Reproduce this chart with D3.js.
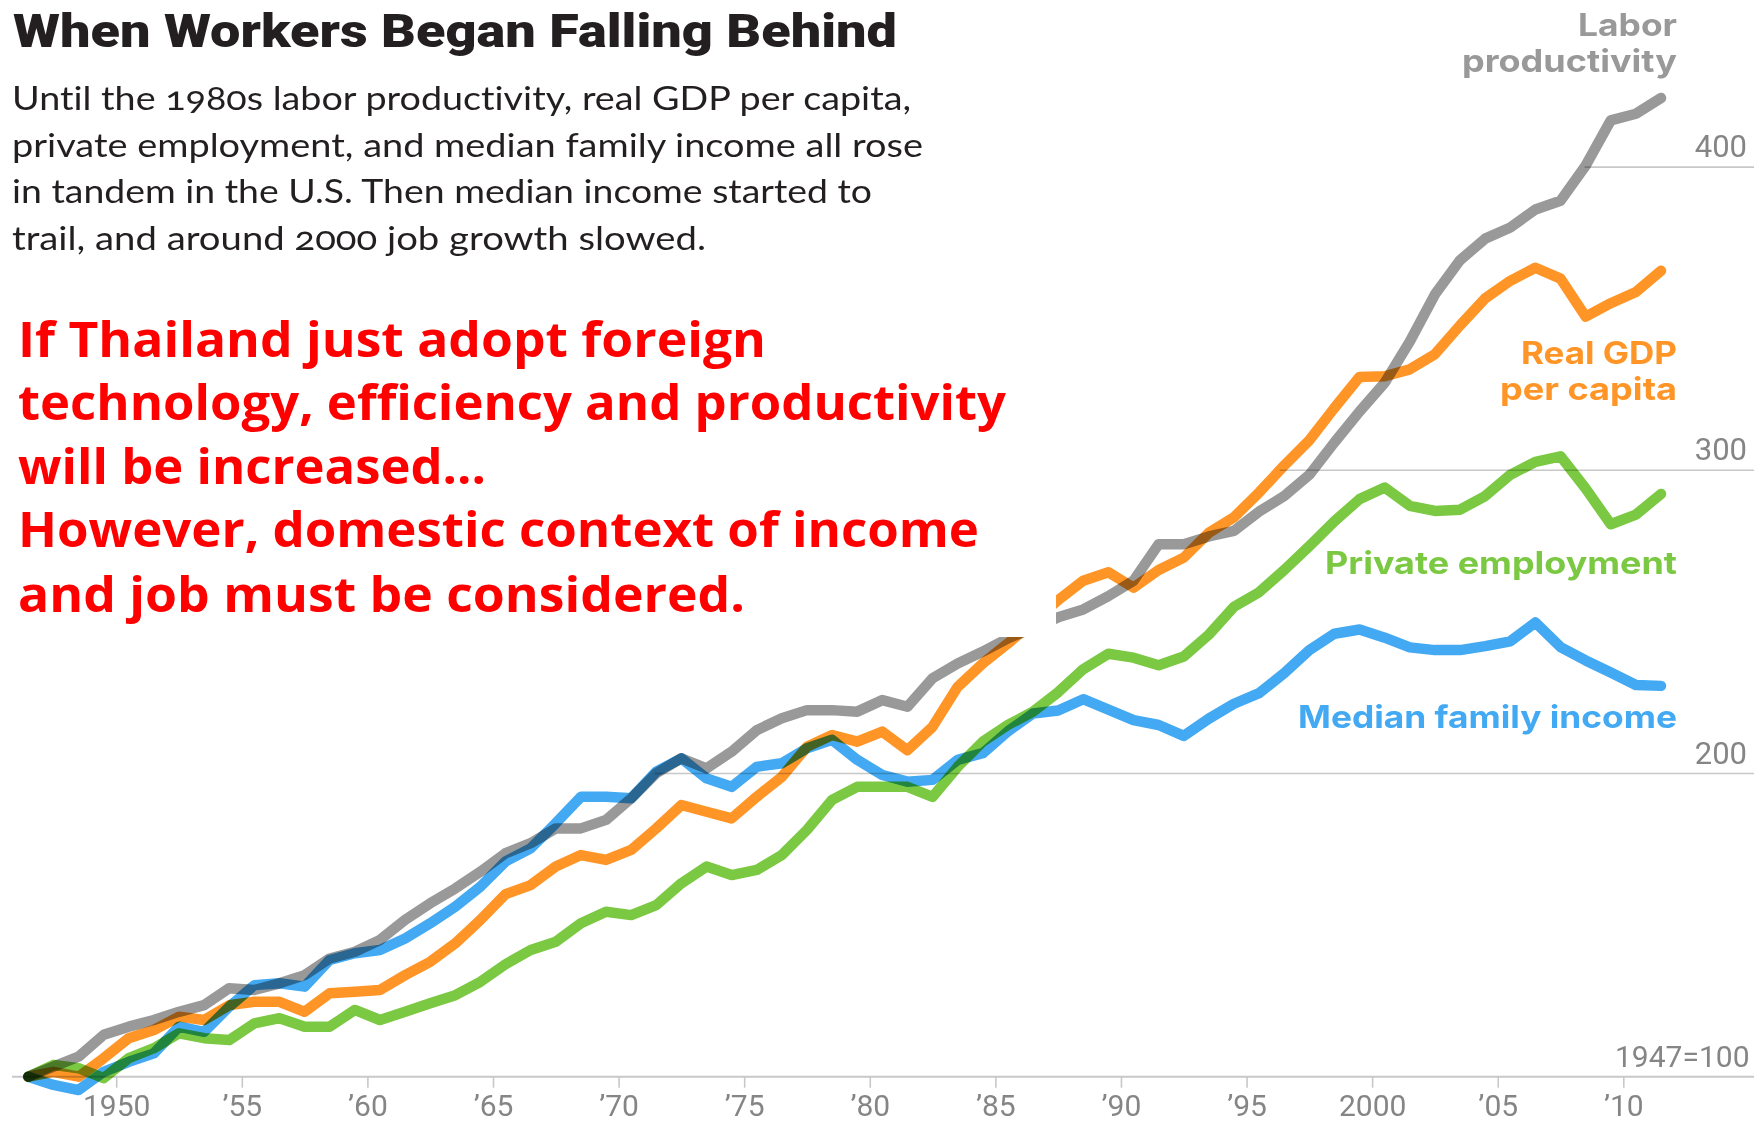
<!DOCTYPE html>
<html><head><meta charset="utf-8">
<script src="https://cdn.jsdelivr.net/npm/d3@7"></script>
<style>body{margin:0;background:#fff}svg{display:block}</style>
</head><body>
<svg id="c" width="1754" height="1122"></svg>
<script>
// ---- data ----
const startYear = 1947, endYear = 2012;
const years = d3.range(startYear, endYear + 1);

const laborProductivity = [100,103.3,106.6,113.8,116.5,118.7,121.4,123.6,129.2,128.6,130.8,133.5,139.0,141.2,145.1,151.7,157.2,162.1,167.6,173.7,
  177.0,181.9,181.9,184.7,191.8,200.1,205.0,201.7,207.2,214.3,218.2,220.9,220.9,220.4,224.2,222.0,231.4,236.3,240.2,244.6,
  248.0,251.5,254.1,258.5,263.6,275.6,275.6,278.2,280.0,286.4,291.5,298.5,309.2,319.4,328.9,342.5,358.0,369.3,376.4,380.1,
  386.0,388.9,400.5,415.4,417.6,422.8];
const realGdpPerCapita = [100,101.6,100,106.1,112.7,115.4,119.8,118.7,123.6,124.7,124.7,121.4,127.5,128.0,128.6,133.5,137.9,144.0,151.7,160.2,
  163.2,169.3,173.1,171.5,174.8,181.9,189.6,187.4,185.2,192.3,198.9,208.8,212.7,210.5,213.8,207.7,215.4,228.6,236.3,242.9,
  250.0,257.2,263.6,266.4,261.3,267.1,271.2,279.4,284.5,292.7,301.6,309.9,320.6,330.8,331.0,333.3,338.3,347.8,356.7,362.5,
  366.8,363.2,350.7,355.1,358.8,365.8];
const privateEmployment = [100,103.9,102.8,99.5,106.1,109.4,114.3,112.7,112.1,117.6,119.3,116.5,116.5,122.0,118.7,121.4,124.2,126.9,131.3,137.1,
  141.8,144.5,150.6,154.4,153.3,156.6,163.8,169.3,166.5,168.2,173.1,181.4,191.3,195.6,195.6,195.6,192.3,202.2,210.5,216.0,
  220.4,226.8,234.4,239.5,238.2,235.7,238.6,245.8,255.0,259.8,267.1,275.0,283.2,290.5,294.3,288.3,286.6,287.0,291.5,298.5,
  302.8,304.6,294.0,282.2,285.4,292.2];
const medianFamilyIncome = [100,97.3,95.6,101.6,104.9,107.7,116.5,114.8,123.1,130.2,130.8,129.7,138.5,140.7,141.8,145.6,150.6,156.1,162.7,171.0,
  175.3,183.6,192.3,192.3,191.8,200.6,205.0,198.4,195.6,202.2,203.4,208.3,211.1,204.5,199.5,197.3,197.9,204.5,206.7,213.9,
  219.8,220.8,224.5,221.1,217.6,216.0,212.4,218.1,223.0,226.5,233.1,240.7,246.1,247.5,244.8,241.6,240.7,240.7,242.0,243.6,
  249.8,241.7,237.3,233.3,229.2,228.9];

const seriesNames = ["Labor productivity","Real GDP per capita","Private employment","Median family income"];
const seriesColors = ["#999999","#ff9526","#7bc943","#43a9f2"];
const seriesValues = [laborProductivity, realGdpPerCapita, privateEmployment, medianFamilyIncome];

const tickYears = [1950,1955,1960,1965,1970,1975,1980,1985,1990,1995,2000,2005,2010];
const tickLabels = ["1950","\u201955","\u201960","\u201965","\u201970","\u201975","\u201980","\u201985","\u201990","\u201995","2000","\u201905","\u201910"];
const gridValues = [200,300,400];
const gridLabels = ["200","300","400"];

const titleText = "When Workers Began Falling Behind";
const subtitleLines = ["Until the 1980s labor productivity, real GDP per capita,",
  "private employment, and median family income all rose",
  "in tandem in the U.S. Then median income started to",
  "trail, and around 2000 job growth slowed."];
const noteLines = ["If Thailand just adopt foreign",
  "technology, efficiency and productivity",
  "will be increased...",
  "However, domestic context of income",
  "and job must be considered."];

// ---- layout ----
const W = 1754, H = 1122;
const svg = d3.select("#c");
const x = d3.scaleLinear().domain([startYear, endYear]).range([28.3, 1661]);
const y = d3.scaleLinear().domain([100, 400]).range([1076.7, 167.1]);
const axisFont = "Roboto, 'Liberation Sans', sans-serif";

// gridlines starting where the first series crosses the value
gridValues.forEach((gv, k) => {
  let tMin = Infinity;
  seriesValues.forEach(s => {
    for (let i = 0; i < s.length - 1; i++) {
      if (s[i] < gv && s[i + 1] >= gv) {
        const t = i + (gv - s[i]) / (s[i + 1] - s[i]);
        if (t < tMin) tMin = t;
        break;
      }
    }
  });
  svg.append("line").attr("x1", x(startYear + tMin)).attr("x2", W)
    .attr("y1", y(gv)).attr("y2", y(gv))
    .attr("stroke", "#c8c8c8").attr("stroke-width", 1.6);
  svg.append("text").attr("x", 1747).attr("y", y(gv) - 10)
    .attr("text-anchor", "end").attr("font-family", axisFont)
    .attr("font-size", 31).attr("fill", "#858585").text(gridLabels[k]);
});

// x axis
const xAxis = d3.axisBottom(x)
  .tickValues(tickYears.map(d => d + 0.5))
  .tickFormat((d, i) => tickLabels[i])
  .tickSize(11).tickPadding(7.5);
const gx = svg.append("g").attr("transform", `translate(0,${y(100)})`).call(xAxis);
gx.select(".domain").remove();
gx.selectAll(".tick line").attr("stroke", "#c8c8c8").attr("stroke-width", 1.6);
gx.selectAll(".tick text").attr("font-family", axisFont).attr("font-size", 30).attr("fill", "#858585");
svg.append("line").attr("x1", 12).attr("x2", W).attr("y1", y(100)).attr("y2", y(100))
  .attr("stroke", "#c8c8c8").attr("stroke-width", 2);
svg.append("text").attr("x", 1749.5).attr("y", 1067).attr("text-anchor", "end")
  .attr("font-family", axisFont).attr("font-size", 30).attr("fill", "#858585").text("1947=100");

// lines
const line = d3.line().x((d, i) => x(years[i])).y(d => y(d));
seriesValues.forEach((s, k) => {
  svg.append("path").datum(s).attr("d", line)
    .attr("fill", "none").attr("stroke", seriesColors[k]).attr("stroke-width", 10.5)
    .attr("stroke-linejoin", "round").attr("stroke-linecap", "round")
    .style("mix-blend-mode", "multiply");
});

// white panel behind the note
svg.append("rect").attr("x", 0).attr("y", 0).attr("width", 1056).attr("height", 637).attr("fill", "#fff");

// series labels
const labelFont = "Inter, 'Noto Sans', sans-serif";
const seriesLabels = [
  {t: "Labor", b: 36, w: 99, c: 0},
  {t: "productivity", b: 71.7, w: 215, c: 0},
  {t: "Real GDP", b: 364, w: 156, c: 1},
  {t: "per capita", b: 400, w: 177, c: 1},
  {t: "Private employment", b: 574, w: 352, c: 2},
  {t: "Median family income", b: 728.3, w: 379, c: 3}
];
seriesLabels.forEach(l => {
  svg.append("text").attr("x", 1677 - l.w).attr("y", l.b)
    .attr("font-family", labelFont).attr("font-weight", 700).attr("font-size", 31)
    .attr("fill", seriesColors[l.c]).attr("textLength", l.w).attr("lengthAdjust", "spacingAndGlyphs")
    .text(l.t);
});

// title + subtitle
svg.append("text").attr("x", 13).attr("y", 46.7)
  .attr("font-family", "Roboto, 'Liberation Sans', sans-serif").attr("font-weight", 900)
  .attr("font-size", 46).attr("fill", "#231f20")
  .attr("textLength", 884).attr("lengthAdjust", "spacingAndGlyphs").text(titleText);
const subBase = [110, 157, 203.3, 250];
const subW = [899, 911, 860, 694];
subtitleLines.forEach((t, i) => {
  svg.append("text").attr("x", 12).attr("y", subBase[i])
    .attr("font-family", "Lato, 'Noto Sans', sans-serif").attr("font-size", 32)
    .style("font-variant-numeric", "oldstyle-nums").style("font-variant-ligatures", "none")
    .attr("fill", "#231f20").attr("textLength", subW[i]).attr("lengthAdjust", "spacingAndGlyphs").text(t);
});

// red note
const noteBase = [357, 420, 483.5, 547, 611.7];
const noteW = [748, 988, 468, 961, 727];
noteLines.forEach((t, i) => {
  svg.append("text").attr("x", 18).attr("y", noteBase[i])
    .attr("font-family", "'Open Sans', 'Noto Sans', sans-serif").attr("font-weight", 700)
    .attr("font-size", 49).attr("fill", "#ff0000")
    .attr("textLength", noteW[i]).attr("lengthAdjust", "spacingAndGlyphs").text(t);
});
</script>
</body></html>
